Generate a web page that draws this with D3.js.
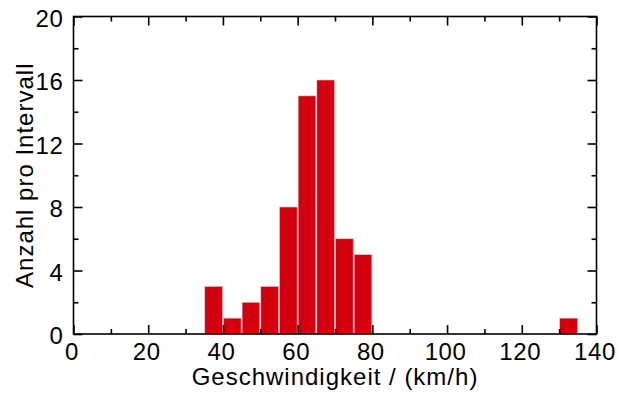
<!DOCTYPE html>
<html>
<head>
<meta charset="utf-8">
<script src="https://cdn.jsdelivr.net/npm/d3@7"></script>
<style>
  body { margin: 0; background: white; }
  text { font-family: "Liberation Sans", Arial, Helvetica, sans-serif; fill: black; }
</style>
</head>
<body>
<div class="histogram"></div>
<script>
// Set Dimensions
const xSize = 617; const ySize = 396;
const margin = {top: 16.5, right: 20.5, bottom: 62, left: 73.5};
const xMax = xSize - margin.left - margin.right;
const yMax = ySize - margin.top - margin.bottom;

// bins (km/h) and counts
const binStart = [35, 40, 45, 50, 55, 60, 65, 70, 75, 130];
const binEnd   = [40, 45, 50, 55, 60, 65, 70, 75, 80, 135];
const counts   = [3, 1, 2, 3, 8, 15, 16, 6, 5, 1];

const xTicks = [0, 20, 40, 60, 80, 100, 120, 140];
const xMinor = [10, 30, 50, 70, 90, 110, 130];
const yTicks = [0, 4, 8, 12, 16, 20];
const yMinor = [2, 6, 10, 14, 18];

const xLabel = "Geschwindigkeit / (km/h)";
const yLabel = "Anzahl pro Intervall";

const svg = d3.select(".histogram")
    .append("svg")
    .attr("width", xSize)
    .attr("height", ySize)
    .append("g")
    .attr("transform", "translate(" + margin.left + "," + margin.top + ")");

const x = d3.scaleLinear().domain([0, 140]).range([0, xMax]);
const y = d3.scaleLinear().domain([0, 20]).range([yMax, 0]);

// bars
svg.selectAll("rect.bar")
    .data(counts)
    .enter()
    .append("rect")
    .attr("class", "bar")
    .attr("x", (d, i) => x(binStart[i]) + 0.5)
    .attr("width", (d, i) => x(binEnd[i]) - x(binStart[i]) - 1)
    .attr("y", d => y(d))
    .attr("height", d => y(0) - y(d))
    .attr("fill", "#d5000f")
    .attr("stroke", "#f4c8c8")
    .attr("stroke-width", 0.6);

// axes, ticks pointing inward on all four sides
function styleAxis(g) {
    g.select(".domain").remove();
    g.selectAll(".tick line").attr("stroke", "black").attr("stroke-width", 1.6);
    g.selectAll("text").style("font-size", "24px").style("letter-spacing", "0.6px");
}

svg.append("g")
    .attr("transform", "translate(0," + yMax + ")")
    .call(d3.axisBottom(x).tickValues(xTicks).tickSize(-9).tickPadding(9))
    .call(styleAxis)
    .selectAll("text").attr("dx", "-2");
svg.append("g")
    .attr("transform", "translate(0," + yMax + ")")
    .call(d3.axisBottom(x).tickValues(xMinor).tickSize(-5).tickFormat(""))
    .call(styleAxis);
svg.append("g")
    .call(d3.axisTop(x).tickValues(xTicks).tickSize(-9).tickFormat(""))
    .call(styleAxis);
svg.append("g")
    .call(d3.axisTop(x).tickValues(xMinor).tickSize(-5).tickFormat(""))
    .call(styleAxis);

svg.append("g")
    .call(d3.axisLeft(y).tickValues(yTicks).tickSize(-9).tickPadding(10))
    .call(styleAxis)
    .selectAll("text").attr("dy", "0.4em");
svg.append("g")
    .call(d3.axisLeft(y).tickValues(yMinor).tickSize(-5).tickFormat(""))
    .call(styleAxis);
svg.append("g")
    .attr("transform", "translate(" + xMax + ",0)")
    .call(d3.axisRight(y).tickValues(yTicks).tickSize(-9).tickFormat(""))
    .call(styleAxis);
svg.append("g")
    .attr("transform", "translate(" + xMax + ",0)")
    .call(d3.axisRight(y).tickValues(yMinor).tickSize(-5).tickFormat(""))
    .call(styleAxis);

// frame
svg.append("rect")
    .attr("width", xMax)
    .attr("height", yMax)
    .attr("fill", "none")
    .attr("stroke", "black")
    .attr("stroke-width", 1.6);

// axis titles
svg.append("text")
    .attr("x", xMax / 2)
    .attr("y", yMax + 51)
    .attr("text-anchor", "middle")
    .style("font-size", "24px")
    .style("letter-spacing", "1px")
    .text(xLabel);

svg.append("text")
    .attr("transform", "translate(" + (-41) + "," + (yMax / 2) + ") rotate(-90)")
    .attr("text-anchor", "middle")
    .style("font-size", "24px")
    .style("letter-spacing", "1px")
    .text(yLabel);
</script>
</body>
</html>
